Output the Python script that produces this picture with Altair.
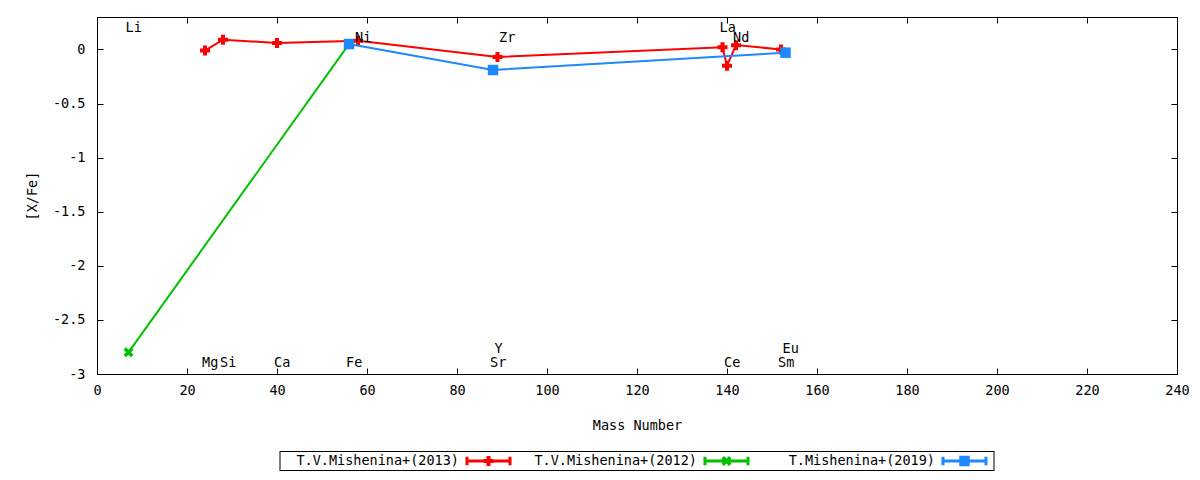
import altair as alt
import pandas as pd

# ---------------- data ----------------
series_names = ["T.V.Mishenina+(2013)", "T.V.Mishenina+(2012)", "T.Mishenina+(2019)"]
series_colors = ["#ff0000", "#00c000", "#1e88ff"]

red_elements = ["Mg", "Si", "Ca", "Ni", "Y", "La", "Ce", "Nd", "Sm"]
red_mass = [24, 28, 40, 58, 89, 139, 140, 142, 152]
red_xfe = [-0.01, 0.09, 0.06, 0.08, -0.07, 0.02, -0.15, 0.04, 0.0]

green_elements = ["Li", "Fe"]
green_mass = [7, 56]
green_xfe = [-2.80, 0.05]

blue_elements = ["Fe", "Sr", "Eu"]
blue_mass = [56, 88, 153]
blue_xfe = [0.05, -0.19, -0.03]

label_text = ["Li", "Ni", "Zr", "La", "Nd", "Mg", "Si", "Ca", "Fe", "Sr", "Y", "Ce", "Sm", "Eu"]
label_mass = [7, 58, 90, 139, 142, 24, 28, 40, 56, 88, 89, 140, 152, 153]
label_y = [0.2, 0.11, 0.11, 0.2, 0.11, -2.9, -2.9, -2.9, -2.9, -2.9, -2.77, -2.9, -2.9, -2.77]

x_ticks = list(range(0, 241, 20))
y_ticks = [-3, -2.5, -2, -1.5, -1, -0.5, 0]

FONT = "DejaVu Sans Mono"
FS = 13.5
W, H = 1080, 357

X_PATH = "M-1,-0.5L-0.5,-1L0,-0.5L0.5,-1L1,-0.5L0.5,0L1,0.5L0.5,1L0,0.5L-0.5,1L-1,0.5L-0.5,0Z"
marker_shapes = ["cross", X_PATH, "square"]
marker_sizes = [100, 100, 110]

xscale = alt.Scale(domain=[0, 240], nice=False, zero=False)
yscale = alt.Scale(domain=[-3, 0.3], nice=False, zero=False)

datasets = [
    pd.DataFrame({"el": red_elements, "mass": red_mass, "xfe": red_xfe, "series": series_names[0]}),
    pd.DataFrame({"el": green_elements, "mass": green_mass, "xfe": green_xfe, "series": series_names[1]}),
    pd.DataFrame({"el": blue_elements, "mass": blue_mass, "xfe": blue_xfe, "series": series_names[2]}),
]

minus_fix = "replace(format(datum.value, '~g'), '\u2212', '-')"
common = dict(domain=False, grid=False, tickSize=6, offset=-6, tickColor="black", tickWidth=1,
              labelFont=FONT, labelFontSize=FS, labelColor="black",
              titleFont=FONT, titleFontSize=FS, titleFontWeight="normal", titleColor="black")

x_bottom = alt.Axis(values=x_ticks, orient="bottom", labelFlush=False, labelOverlap=False, labelPadding=9,
                    labelExpr=minus_fix, title="Mass Number", titleX=W / 2, titleY=57,
                    titleBaseline="middle", titleAnchor="middle", **common)
y_left = alt.Axis(values=y_ticks, orient="left", labelFlush=False, labelOverlap=False, labelPadding=12,
                  labelExpr=minus_fix, title="[X/Fe]", titleX=-71, titleY=H / 2, titleBaseline="middle",
                  titleAngle=270, titleAnchor="middle", **common)
x_top = alt.Axis(values=x_ticks, orient="top", labels=False, title=None, **common)
y_right = alt.Axis(values=y_ticks, orient="right", labels=False, title=None, **common)

layers = []
for i, df in enumerate(datasets):
    color = series_colors[i]
    if i == 0:
        xe = alt.X("mass:Q", scale=xscale, axis=x_bottom)
        ye = alt.Y("xfe:Q", scale=yscale, axis=y_left)
    else:
        xe = alt.X("mass:Q", scale=xscale)
        ye = alt.Y("xfe:Q", scale=yscale)
    line = alt.Chart(df).mark_line(color=color, strokeWidth=2).encode(x=xe, y=ye, order="mass:Q")
    pts = alt.Chart(df).mark_point(shape=marker_shapes[i], size=marker_sizes[i], filled=True,
                                   color=color, opacity=1).encode(
        x=alt.X("mass:Q", scale=xscale),
        y=alt.Y("xfe:Q", scale=yscale),
    )
    layers += [line, pts]

labels_df = pd.DataFrame({"t": label_text, "mass": label_mass, "y": label_y})
labels = alt.Chart(labels_df).mark_text(align="left", baseline="middle", dx=-3, font=FONT,
                                        fontSize=FS, color="black").encode(
    x=alt.X("mass:Q", scale=xscale),
    y=alt.Y("y:Q", scale=yscale),
    text="t:N",
)
layers.append(labels)

data_layer = alt.layer(*layers)

mirror = alt.Chart(datasets[0]).mark_point(opacity=0).encode(
    x=alt.X("mass:Q", scale=xscale, axis=x_top),
    y=alt.Y("xfe:Q", scale=yscale, axis=y_right),
)

plot = alt.layer(data_layer, mirror).resolve_axis(x="independent", y="independent")

# ---------------- legend (gnuplot style) ----------------
leg_df = pd.DataFrame({"series": series_names})
band = alt.Scale(type="band", domain=series_names, paddingInner=0, paddingOuter=0.769)
leg_x = alt.X("series:N", scale=band, axis=None)
LY = 444
leg_text = alt.Chart(leg_df).mark_text(align="right", baseline="middle", dx=60, font=FONT,
                                       fontSize=FS, color="black").encode(
    x=leg_x, y=alt.value(LY), text="series:N")
leg_layers = [leg_text]
SAMPLE = "M-1,0H1M-1,-0.2V0.2M1,-0.2V0.2"
for i, name in enumerate(series_names):
    sub = leg_df[leg_df["series"] == name]
    leg_layers.append(alt.Chart(sub).mark_point(shape=SAMPLE, size=1849, filled=False, strokeWidth=3,
                                                color=series_colors[i], opacity=1, xOffset=89.5).encode(
        x=leg_x, y=alt.value(LY)))
    leg_layers.append(alt.Chart(sub).mark_point(shape=marker_shapes[i], size=marker_sizes[i], filled=True,
                                                color=series_colors[i], opacity=1, xOffset=89.5).encode(
        x=leg_x, y=alt.value(LY)))
edge_top = alt.Chart(leg_df).mark_rect(color="black").encode(x=leg_x, y=alt.value(LY - 10), y2=alt.value(LY - 9))
edge_bot = alt.Chart(leg_df).mark_rect(color="black").encode(x=leg_x, y=alt.value(LY + 9), y2=alt.value(LY + 10))
edge_l = alt.Chart(leg_df.iloc[[0]]).mark_rule(color="black", strokeWidth=1).encode(
    x=alt.X("series:N", scale=band, axis=None, bandPosition=0),
    y=alt.value(LY - 10), y2=alt.value(LY + 10))
edge_r = alt.Chart(leg_df.iloc[[2]]).mark_rule(color="black", strokeWidth=1).encode(
    x=alt.X("series:N", scale=band, axis=None, bandPosition=1),
    y=alt.value(LY - 10), y2=alt.value(LY + 10))
legend = alt.layer(edge_top, edge_bot, edge_l, edge_r, *leg_layers)

chart = alt.layer(plot, legend).resolve_scale(x="independent").properties(
    width=W, height=H,
    autosize=alt.AutoSizeParams(type="none"),
    padding={"left": 89, "top": 9, "right": 14, "bottom": 97},
    background="white",
).configure_view(stroke="black", strokeWidth=1)

chart.save("out.html", embed_options={"renderer": "svg", "actions": False})
